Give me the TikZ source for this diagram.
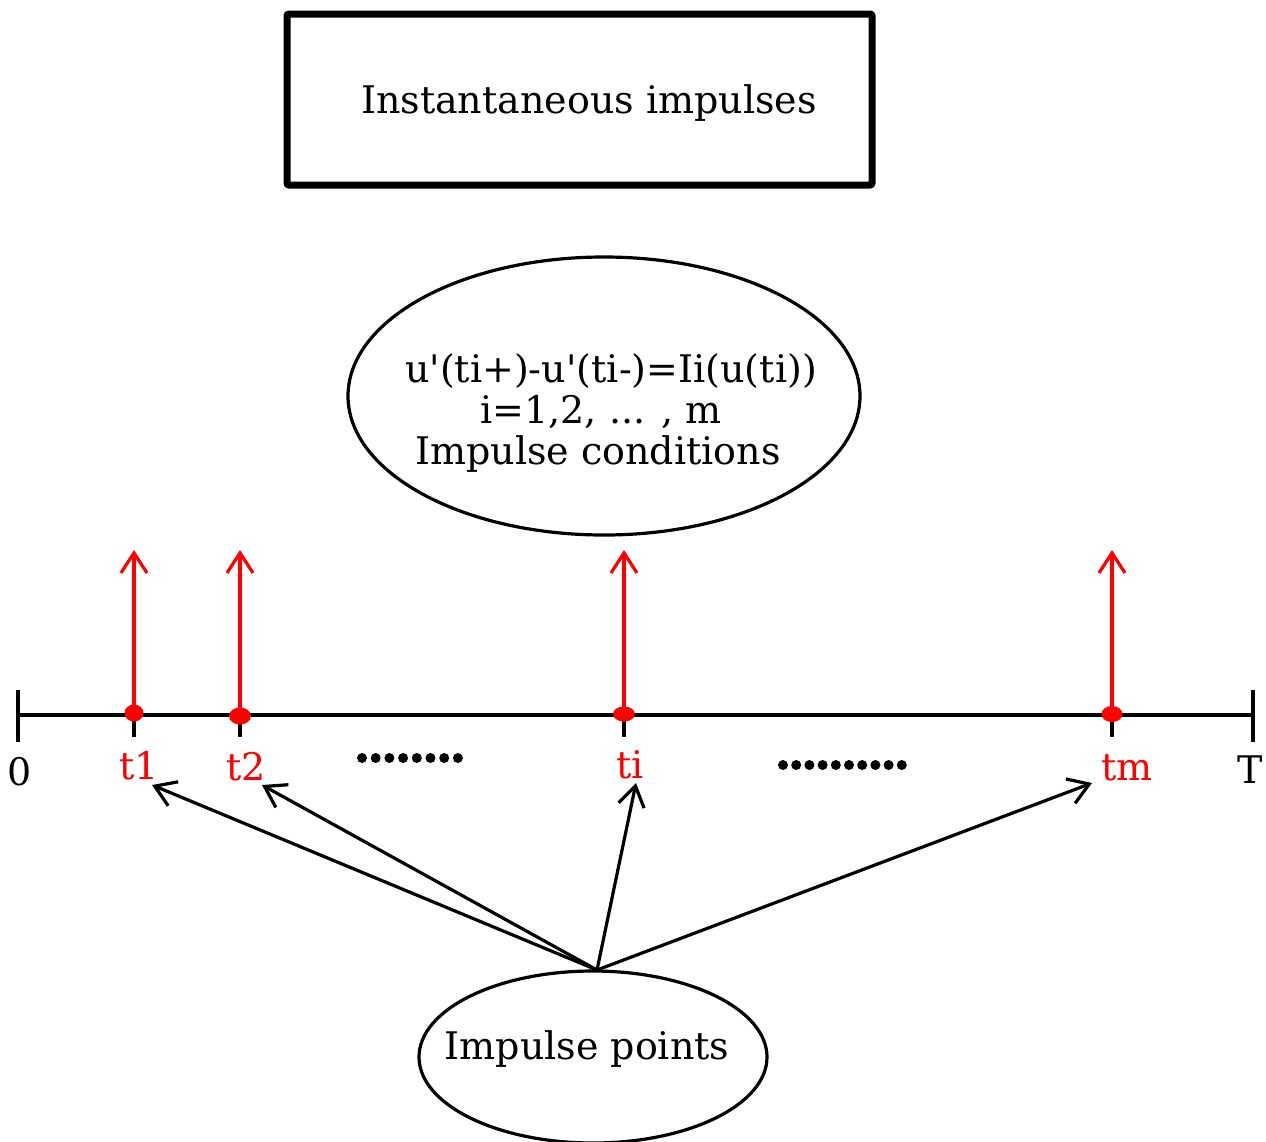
\documentclass[tikz,border=0pt]{standalone}
\usepackage{fontspec}
\setmainfont{DejaVu Serif}
\usetikzlibrary{arrows.meta,shapes.geometric}
\begin{document}
\begin{tikzpicture}[x=1pt,y=-1pt,
  txt/.style={font=\fontsize{38}{43}\selectfont, inner sep=0pt},
  lbl/.style={font=\fontsize{38}{43}\selectfont, inner sep=0pt, anchor=base},
  ax/.style={line width=3.2pt, black},
  impulse/.style={line width=3.2pt, red, -{Straight Barb[length=20pt,width=26pt]}},
  conn/.style={line width=3.2pt, black, -{Straight Barb[length=20pt,width=26pt]}},
  rdot/.style={fill=red, draw=none},
  bdot/.style={fill=black, draw=none}]
\useasboundingbox (0,0) rectangle (1266,1141);
% title box
\node[draw, line width=7pt, rounded corners=2pt, minimum width=585pt, minimum height=171pt, inner sep=0pt] (title) at (579.5,99.5) {};
\node[txt] (titletxt) at (589,103) {Instantaneous impulses};
% top ellipse
\node[draw, line width=3.2pt, ellipse, minimum width=512pt, minimum height=278pt, inner sep=0pt] (condell) at (604,396) {};
\node[lbl] (cond1) at (611,382) {u\textquotesingle(ti+)-u\textquotesingle(ti-)=Ii(u(ti))};
\node[lbl] (cond2) at (601,423) {i=1,2, ... , m};
\node[lbl] (cond3) at (598,464) {Impulse conditions};
% axis
\coordinate (A0) at (18,715);
\coordinate (AT) at (1253,715);
\draw[ax] (A0) -- (AT);
\draw[ax] (18,690) -- (18,742);
\draw[ax] (1253,690) -- (1253,742);
\foreach \n/\xx in {p1/134, p2/240, pi/624, pm/1112}{
  \coordinate (\n) at (\xx,715);
  \draw[ax] (\xx,715) -- (\xx,737);
  \coordinate (\n top) at (\xx,550);
  \draw[impulse] (\n) -- (\n top);
}
\fill[rdot] (134,713) ellipse [x radius=9.5, y radius=8.5];
\fill[rdot] (240,716) ellipse [x radius=11, y radius=8.5];
\fill[rdot] (624,714) ellipse [x radius=11, y radius=7.5];
\fill[rdot] (1112,714) ellipse [x radius=10.5, y radius=8];
% labels
\node[lbl] (l0) at (20,785) {0};
\node[lbl, red] (l1) at (139,779) {t1};
\node[lbl, red] (l2) at (246,780) {t2};
\node[lbl, red] (li) at (630,778) {ti};
\node[lbl, red] (lm) at (1127,780) {tm};
\node[lbl] (lT) at (1250,783) {T};
% dotted rows
\foreach \i in {0,...,7}{ \fill[bdot] ({362+\i*13.7},758) circle (5); }
\foreach \i in {0,...,9}{ \fill[bdot] ({783+\i*13.2},765) circle (5); }
% bottom ellipse
\node[draw, line width=3.2pt, ellipse, minimum width=348pt, minimum height=172pt, inner sep=0pt] (pts) at (593,1057) {};
\node[txt] (ptstxt) at (587,1049) {Impulse points};
\coordinate (src) at (597,970);
\coordinate (e1) at (152,785);
\coordinate (e2) at (262,785);
\coordinate (ei) at (636,783);
\coordinate (em) at (1092,783);
\draw[conn] (src) -- (e1);
\draw[conn] (src) -- (e2);
\draw[conn] (src) -- (ei);
\draw[conn] (src) -- (em);
\end{tikzpicture}
\end{document}
